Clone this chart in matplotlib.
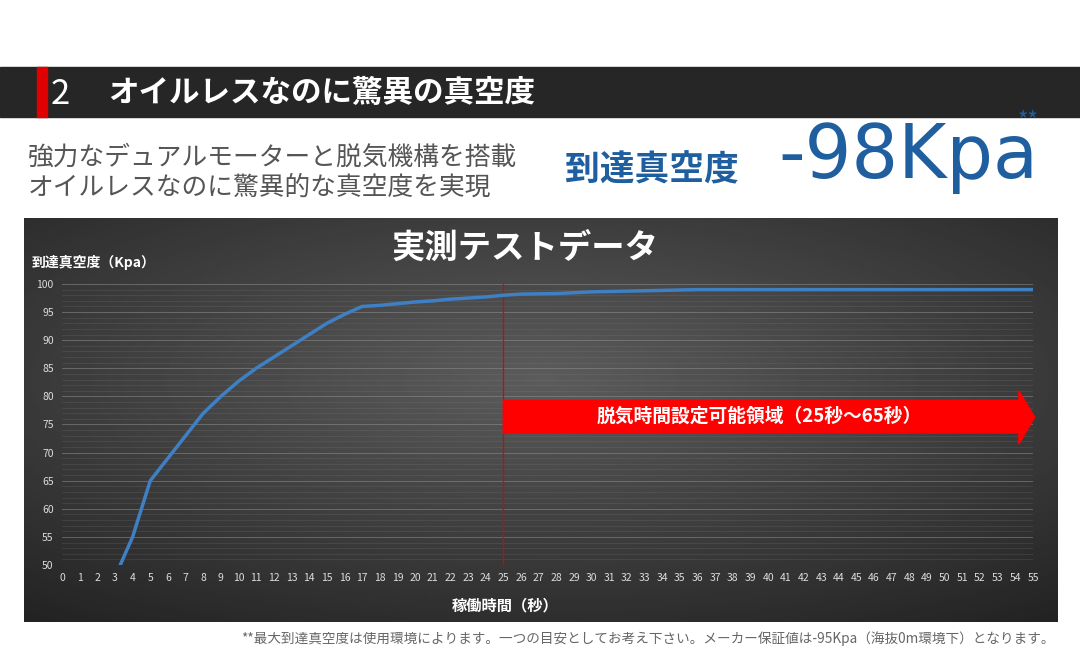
import matplotlib
matplotlib.use("Agg")
import matplotlib.pyplot as plt
import numpy as np
from matplotlib.patches import Rectangle, Polygon

plt.rcParams['font.family'] = ['Noto Sans CJK JP', 'DejaVu Sans']

seconds = [3.3, 4, 5, 6, 7, 8, 9, 10, 11, 12, 13, 14, 15, 16, 17, 18, 19, 20, 21, 22, 23, 24, 25, 26, 28, 30, 33, 36, 40, 45, 50, 55]
kpa = [50, 55, 65, 69, 73, 77, 80, 82.7, 85, 87, 89, 91, 93, 94.6, 96, 96.2, 96.5, 96.8, 97, 97.3, 97.5, 97.7, 98, 98.2, 98.3, 98.6, 98.8, 99, 99, 99, 99, 99]
x_ticks = list(range(0, 56))
y_ticks = list(range(50, 101, 5))
zone_start, zone_end = 25, 55

W, H = 1080, 652
fig = plt.figure(figsize=(W/100, H/100), dpi=100)
fig.patch.set_facecolor('white')

def fx(px): return px / W
def fy(py): return 1 - py / H

# header band
fig.patches.append(Rectangle((0, fy(117)), 1, (117-67)/H, transform=fig.transFigure, color='#262626', zorder=0))
fig.patches.append(Rectangle((fx(37), fy(117)), 10/W, (117-67)/H, transform=fig.transFigure, color='#e00000', zorder=1))
fig.text(fx(51), fy(94), '2', color='white', fontsize=25, va='center', ha='left')
fig.text(fx(108), fy(93), 'オイルレスなのに驚異の真空度', color='white', fontsize=22, fontweight='bold', va='center', ha='left')

fig.text(fx(28), fy(158), '強力なデュアルモーターと脱気機構を搭載', color='#555555', fontsize=18.5, va='center')
fig.text(fx(28), fy(188), 'オイルレスなのに驚異的な真空度を実現', color='#555555', fontsize=18.5, va='center')
fig.text(fx(565), fy(170), '到達真空度', color='#1f5fa0', fontsize=25, fontweight='bold', va='center')
fig.text(fx(778), fy(158), '-98Kpa', color='#1f5fa0', fontsize=53, va='center', family=['DejaVu Sans'])
fig.text(fx(1018), fy(121), '**', color='#1f5fa0', fontsize=16, va='center')

# chart background gradient
bg = fig.add_axes([fx(24), fy(622), (1058-24)/W, (622-218)/H])
xx, yy = np.meshgrid(np.linspace(-1, 1, 300), np.linspace(-1, 1, 200))
grad = np.clip(0.36 - 0.15*np.sqrt((xx*0.9)**2 + (yy+0.2)**2), 0.12, 0.4)
bg.imshow(grad, cmap='gray', vmin=0, vmax=1, aspect='auto', extent=[0, 1, 0, 1])
bg.axis('off')

ax = fig.add_axes([fx(62), fy(565), (1033-62)/W, (565-284)/H])
ax.set_facecolor('none')
for v in np.arange(50, 100.5, 1):
    ax.axhline(v, color='#888888', lw=0.5, alpha=0.25, zorder=0)
for v in y_ticks:
    ax.axhline(v, color='#999999', lw=0.7, alpha=0.4, zorder=0)
ax.plot(seconds, kpa, color='#3f7fc4', lw=2.5, zorder=3)
ax.plot([zone_start, zone_start], [50, 100], color='#e00000', lw=0.9, zorder=2)
arrow = Polygon([(zone_start, 73.5), (zone_end - 0.8, 73.5), (zone_end - 0.8, 71.5), (zone_end + 0.1, 76.3),
                 (zone_end - 0.8, 81), (zone_end - 0.8, 79.3), (zone_start, 79.3)], closed=True,
                color='#ff0000', zorder=4, clip_on=False)
ax.add_patch(arrow)
ax.text(39.5, 76.4, '脱気時間設定可能領域（25秒～65秒）', color='white', fontsize=13.5, fontweight='bold',
        ha='center', va='center', zorder=5)
ax.set_xlim(0, 55)
ax.set_ylim(50, 100)
ax.set_xticks(x_ticks)
ax.set_yticks(y_ticks)
ax.tick_params(colors='#dddddd', labelsize=7.5, length=0, pad=6)
for s in ax.spines.values():
    s.set_visible(False)

fig.text(fx(32), fy(263), '到達真空度（Kpa）', color='white', fontsize=10, fontweight='bold', va='center')
fig.text(fx(525), fy(248), '実測テストデータ', color='white', fontsize=24, fontweight='bold', va='center', ha='center')
fig.text(fx(505), fy(605), '稼働時間（秒）', color='white', fontsize=11, fontweight='bold', va='center', ha='center')

fig.text(fx(1055), fy(639), '**最大到達真空度は使用環境によります。一つの目安としてお考え下さい。メーカー保証値は-95Kpa（海抜0m環境下）となります。',
         color='#666666', fontsize=9.8, va='center', ha='right')

fig.savefig('out.png', dpi=100, facecolor='white')
